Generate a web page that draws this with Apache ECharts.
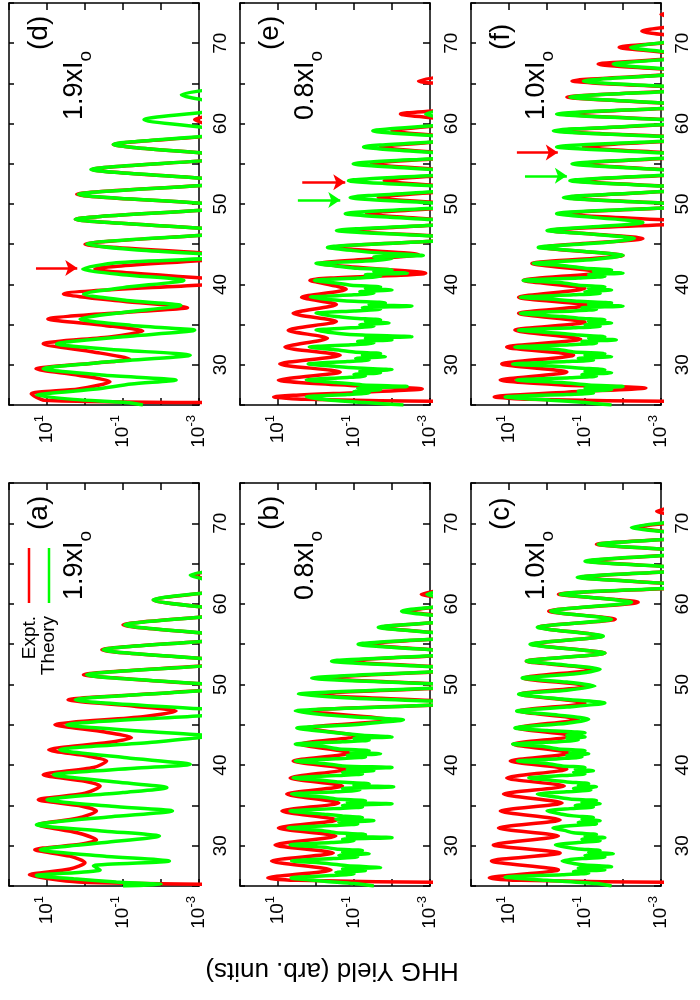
<!DOCTYPE html>
<html><head><meta charset="utf-8">
<script src="https://cdn.jsdelivr.net/npm/echarts/dist/echarts.min.js"></script>
<style>html,body{margin:0;padding:0;background:#fff}#c{width:700px;height:1000px}</style>
</head><body><div id="c"></div>
<script>
// ---------- DATA: [photon energy (eV), HHG yield (arb. units)] ----------
const energyTickLabels = [30, 40, 50, 60, 70];
const yieldTickExponents = [1, -1, -3];
const panelNames = ['(a)', '(b)', '(c)', '(d)', '(e)', '(f)'];
const intensityLabels = ['1.9', '0.8', '1.0', '1.9', '0.8', '1.0'];
const legendNames = ['Expt.', 'Theory'];

const expA = [[25.2,1e-4],[25.5,1.5],[26.4,29],[27.1,2.5],[27.9,1.0],[28.7,2.5],[29.5,21],[30.2,1.2],[30.7,0.5],[31.6,1.6],[32.6,17],[33.4,1.6],[34.3,0.5],[34.9,1.2],[35.7,17],[36.5,1.0],[37.4,0.4],[38.0,1.0],[38.8,12.6],[39.7,0.6],[40.5,0.27],[41.1,0.8],[41.9,9],[42.8,0.25],[43.4,0.06],[44.1,0.3],[45.0,6.2],[46.0,0.03],[46.7,0.004],[47.3,0.05],[48.1,2.8],[49.0,0.005],[49.7,1e-4],[50.4,0.01],[51.2,1.1],[52.75,1e-4],[54.3,0.36],[55.85,1e-4],[57.4,0.1],[58.95,1e-4],[60.5,0.016],[62.05,1e-4],[63.6,0.0014],[64.5,1e-4]];
const theoA = [[25.0,0.1],[25.2,0.01],[25.5,0.15],[25.9,2],[26.3,19],[27.0,0.4],[27.5,0.6],[28.1,0.006],[28.7,0.3],[29.5,15],[30.4,0.3],[31.2,0.011],[31.8,0.3],[32.6,19],[33.6,0.2],[34.3,0.005],[34.9,0.2],[35.7,10],[36.6,0.1],[37.2,0.007],[37.9,0.15],[38.8,6.8],[39.6,0.05],[40.1,0.0017],[40.9,0.08],[41.9,4.6],[42.8,0.02],[43.6,6e-4],[44.2,0.03],[45.0,3.0],[46.55,1e-4],[48.1,1.8],[49.65,1e-4],[51.2,0.9],[52.75,1e-4],[54.3,0.33],[55.85,1e-4],[57.4,0.09],[58.95,1e-4],[60.5,0.016],[62.05,1e-4],[63.6,0.0017],[64.4,1e-4]];

const expB = [[25.4,1e-4],[25.7,3],[26.0,18.6],[27.0,0.4],[28.1,14.8],[29.1,0.35],[30.1,12],[31.2,0.3],[32.2,9.8],[33.2,0.28],[34.3,7.9],[35.3,0.25],[36.4,5.9],[37.4,0.2],[38.4,4.8],[39.5,0.16],[40.5,4],[41.5,0.13],[42.6,2.6],[43.6,0.08],[44.6,1.8],[45.6,0.01],[46.7,1.8],[47.7,1e-4],[48.8,1.3],[49.8,1e-4],[50.8,0.58],[51.9,1e-4],[52.9,0.17],[53.9,1e-4],[55.0,0.047],[56.0,1e-4],[57.1,0.019],[58.1,1e-4],[59.1,0.0037],[60.2,1e-4],[61.2,0.0017],[62.2,1e-4]];
const theoB = [[25.0,0.03],[25.3,0.1],[25.6,0.6],[26.0,4.5],[26.3,0.4],[26.5,0.1],[26.7,0.3],[26.9,0.05],[27.1,0.2],[27.3,0.02],[27.5,0.15],[27.8,0.5],[28.1,4.4],[28.4,0.35],[28.6,0.08],[28.8,0.25],[29.0,0.04],[29.2,0.2],[29.4,0.06],[29.6,0.3],[29.8,0.6],[30.1,4.8],[30.4,0.4],[30.6,0.1],[30.8,0.2],[31.0,0.01],[31.2,0.15],[31.4,0.05],[31.6,0.3],[31.9,0.7],[32.2,5.4],[32.5,0.4],[32.7,0.08],[32.9,0.25],[33.1,0.03],[33.3,0.3],[33.5,0.06],[33.7,0.2],[33.9,0.6],[34.3,4.8],[34.6,0.35],[34.8,0.06],[35.0,0.2],[35.2,0.01],[35.4,0.15],[35.6,0.05],[35.8,0.3],[36.0,0.6],[36.4,4.4],[36.7,0.3],[36.9,0.07],[37.1,0.2],[37.3,0.009],[37.5,0.1],[37.7,0.04],[37.9,0.25],[38.1,0.6],[38.4,4],[38.7,0.3],[38.9,0.06],[39.1,0.2],[39.3,0.03],[39.5,0.15],[39.7,0.01],[39.9,0.2],[40.2,0.6],[40.5,3.5],[40.8,0.3],[41.0,0.05],[41.2,0.15],[41.4,0.02],[41.6,0.12],[41.8,0.04],[42.0,0.25],[42.3,0.6],[42.6,3.5],[42.9,0.2],[43.1,0.04],[43.3,0.1],[43.5,0.01],[43.7,0.06],[44.0,0.3],[44.6,3.2],[45.0,0.1],[45.3,0.02],[45.6,0.005],[45.9,0.05],[46.2,0.5],[46.7,3.5],[47.2,0.02],[47.7,1e-4],[48.3,0.1],[48.8,2.9],[49.8,1e-4],[50.8,1.3],[51.9,1e-4],[52.9,0.39],[53.9,1e-4],[55.0,0.078],[56.0,1e-4],[57.1,0.023],[58.1,1e-4],[59.1,0.0056],[60.2,1e-4],[61.2,0.0012],[62.2,1e-4]];

const expC = [[25.4,1e-4],[25.7,5],[26.0,33],[27.0,0.5],[28.1,29],[29.1,0.45],[30.1,26],[31.2,0.5],[32.2,19],[33.2,0.45],[34.3,17],[35.3,0.4],[36.4,14],[37.4,0.35],[38.4,11.5],[39.5,0.3],[40.5,9.3],[41.5,0.25],[42.6,7.8],[43.6,0.2],[44.6,6.3],[45.7,0.15],[46.7,5.6],[47.7,0.1],[48.8,5.1],[49.8,0.08],[50.8,4.2],[51.9,0.055],[52.9,3.5],[53.9,0.03],[55.0,2.5],[56.0,0.035],[57.1,1.7],[58.1,0.016],[59.1,0.9],[60.2,0.004],[61.2,0.5],[62.2,1e-4],[63.3,0.135],[64.3,1e-4],[65.3,0.08],[66.4,1e-4],[67.4,0.05],[68.4,1e-4],[69.5,0.0044],[70.5,1e-4],[71.5,0.0013],[72.6,1e-4]];
const theoC = [[25.0,0.02],[25.3,0.05],[25.7,1.0],[26.1,12.6],[26.4,0.4],[26.6,0.08],[26.8,0.2],[27.0,0.03],[27.2,0.15],[27.4,0.02],[27.6,0.1],[27.8,0.2],[28.1,0.4],[28.4,0.12],[28.6,0.03],[28.8,0.1],[29.0,0.018],[29.2,0.08],[29.4,0.04],[29.6,0.15],[29.8,0.3],[30.1,0.6],[30.4,0.15],[30.6,0.04],[30.8,0.12],[31.0,0.03],[31.2,0.1],[31.4,0.05],[31.6,0.2],[31.9,0.35],[32.2,0.7],[32.5,0.2],[32.7,0.05],[32.9,0.15],[33.1,0.04],[33.3,0.12],[33.5,0.06],[33.7,0.2],[33.9,0.4],[34.3,1.0],[34.6,0.25],[34.8,0.06],[35.0,0.18],[35.2,0.04],[35.4,0.12],[35.6,0.05],[35.8,0.25],[36.0,0.5],[36.4,1.8],[36.7,0.3],[36.9,0.07],[37.1,0.2],[37.3,0.05],[37.5,0.15],[37.7,0.08],[37.9,0.3],[38.1,0.7],[38.4,3],[38.7,0.4],[38.9,0.1],[39.1,0.2],[39.3,0.06],[39.5,0.18],[39.7,0.1],[39.9,0.4],[40.2,1.0],[40.5,6],[40.8,0.5],[41.0,0.12],[41.2,0.3],[41.4,0.08],[41.6,0.25],[41.8,0.1],[42.0,0.5],[42.3,1.2],[42.6,8],[42.9,0.5],[43.1,0.15],[43.3,0.3],[43.5,0.1],[43.7,0.3],[44.0,0.1],[44.3,1.0],[44.6,7],[45.2,0.3],[45.7,0.08],[46.2,0.5],[46.7,6.3],[47.2,0.3],[47.7,0.03],[48.2,0.4],[48.8,5.6],[49.3,0.3],[49.8,0.055],[50.3,0.3],[50.8,4.5],[51.3,0.2],[51.9,0.04],[52.4,0.3],[52.9,3.5],[53.9,0.03],[55.0,2.8],[56.0,0.033],[57.1,1.8],[58.1,0.02],[59.1,0.8],[60.2,0.006],[61.2,0.45],[62.2,1e-4],[63.3,0.16],[64.3,1e-4],[65.3,0.1],[66.4,1e-4],[67.4,0.045],[68.4,1e-4],[69.5,0.006],[70.5,1e-4]];

const expD = [[25.3,1e-4],[25.6,12],[26.4,26],[27.0,1.5],[27.9,0.22],[28.7,1.5],[29.5,19.5],[30.2,0.6],[30.7,0.066],[31.6,0.6],[32.6,12.6],[33.5,0.2],[34.2,0.03],[34.9,0.3],[35.7,9.5],[36.6,0.05],[37.1,0.002],[37.9,0.1],[38.8,3.7],[40.35,1e-4],[41.9,0.55],[43.45,1e-4],[45.0,1.0],[46.55,1e-4],[48.1,1.8],[49.65,1e-4],[51.2,1.65],[52.75,1e-4],[54.3,0.66],[55.85,1e-4],[57.4,0.18],[58.95,1e-4],[60.5,0.0013],[61.5,1e-4]];
const theoD = [[25.0,0.03],[25.3,0.08],[25.7,2],[26.2,18.6],[27.0,0.5],[27.6,0.06],[28.1,0.004],[28.7,0.3],[29.5,12.6],[30.4,0.2],[31.2,0.0017],[31.9,0.2],[32.6,5.6],[33.5,0.1],[34.3,0.0013],[34.9,0.06],[35.7,1.35],[36.5,0.1],[37.4,0.003],[38.0,0.08],[38.8,1.1],[39.6,0.1],[40.5,0.0025],[41.2,0.1],[41.9,1.15],[42.7,0.15],[43.45,1e-4],[44.3,0.05],[45.0,0.9],[46.55,1e-4],[48.1,1.8],[49.65,1e-4],[51.2,1.5],[52.75,1e-4],[54.3,0.7],[55.85,1e-4],[57.4,0.18],[58.95,1e-4],[60.5,0.028],[62.05,1e-4],[63.6,0.0029],[64.6,1e-4]];

const expE = [[25.4,1e-4],[25.7,2],[26.0,13],[26.6,0.05],[27.0,0.0016],[27.4,0.08],[28.1,9.8],[29.1,0.23],[30.1,9],[31.2,0.23],[32.2,6.6],[33.3,0.5],[34.3,5.4],[35.4,0.29],[36.4,4],[37.5,0.29],[38.4,2.4],[39.4,0.16],[40.5,1.45],[41.4,0.0013],[42.6,0.8],[43.7,0.002],[44.6,0.4],[45.7,1e-4],[46.7,0.13],[47.7,1e-4],[48.8,0.047],[49.8,1e-4],[50.8,0.023],[51.9,1e-4],[52.9,0.016],[53.9,1e-4],[55.0,0.035],[56.0,1e-4],[57.1,0.02],[58.1,1e-4],[59.1,0.01],[60.2,1e-4],[61.2,0.006],[62.2,1e-4],[64.3,1e-4],[65.3,0.002],[66.3,1e-4]];
const theoE = [[25.0,0.005],[25.3,0.05],[25.6,0.4],[26.0,1.8],[26.3,0.15],[26.5,0.04],[26.7,0.1],[26.9,0.02],[27.1,0.08],[27.3,0.004],[27.5,0.06],[27.8,0.3],[28.1,1.8],[28.4,0.2],[28.6,0.05],[28.8,0.1],[29.0,0.02],[29.2,0.07],[29.4,0.01],[29.6,0.08],[29.8,0.3],[30.1,1.6],[30.4,0.15],[30.6,0.04],[30.8,0.09],[31.0,0.015],[31.2,0.06],[31.4,0.02],[31.6,0.1],[31.9,0.35],[32.2,1.5],[32.5,0.12],[32.7,0.03],[32.9,0.08],[33.1,0.01],[33.3,0.05],[33.5,0.003],[33.7,0.06],[33.9,0.25],[34.3,1.0],[34.6,0.12],[34.8,0.03],[35.0,0.07],[35.2,0.012],[35.4,0.05],[35.6,0.02],[35.8,0.1],[36.0,0.3],[36.4,1.0],[36.7,0.1],[36.9,0.02],[37.1,0.06],[37.3,0.003],[37.5,0.04],[37.7,0.015],[37.9,0.1],[38.1,0.4],[38.4,1.4],[38.7,0.1],[38.9,0.03],[39.1,0.07],[39.3,0.01],[39.5,0.05],[39.7,0.02],[39.9,0.12],[40.2,0.35],[40.5,1.1],[40.8,0.08],[41.0,0.02],[41.2,0.05],[41.4,0.004],[41.6,0.03],[41.8,0.01],[42.0,0.08],[42.3,0.3],[42.6,1.0],[42.9,0.05],[43.2,0.01],[43.4,0.03],[43.6,0.0015],[43.9,0.02],[44.2,0.1],[44.6,0.5],[45.7,1e-4],[46.7,0.29],[47.7,1e-4],[48.8,0.17],[49.8,1e-4],[50.8,0.126],[51.9,1e-4],[52.9,0.14],[53.9,1e-4],[55.0,0.105],[56.0,1e-4],[57.1,0.056],[58.1,1e-4],[59.1,0.032],[60.2,1e-4],[61.2,0.0013],[62.2,1e-4]];

const expF = [[25.4,1e-4],[25.7,3],[26.0,24.5],[26.6,0.3],[27.1,0.0025],[27.5,0.4],[28.1,17],[29.1,0.3],[30.1,15.5],[31.2,0.2],[32.2,11.5],[33.2,0.13],[34.3,7],[35.3,0.1],[36.4,5.6],[37.4,0.08],[38.4,5.6],[39.5,0.1],[40.5,4.2],[41.5,0.04],[42.6,2.5],[43.6,0.01],[44.6,1.25],[45.7,0.003],[46.7,0.83],[47.7,1e-4],[48.8,0.4],[49.8,1e-4],[50.8,0.28],[51.9,1e-4],[52.9,0.17],[53.9,1e-4],[55.0,0.135],[56.0,1e-4],[57.1,0.11],[58.1,1e-4],[59.1,0.46],[60.2,1e-4],[61.2,0.37],[62.2,1e-4],[63.3,0.3],[64.3,1e-4],[65.3,0.22],[66.4,1e-4],[67.4,0.045],[68.4,1e-4],[69.5,0.0126],[70.5,1e-4],[71.5,0.0032],[72.6,1e-4],[73.6,0.001],[74.3,1e-4]];
const theoF = [[25.0,0.02],[25.3,0.1],[25.6,0.8],[26.0,12.6],[26.3,0.3],[26.5,0.06],[26.7,0.15],[26.9,0.02],[27.1,0.1],[27.3,0.01],[27.5,0.08],[27.8,0.4],[28.1,6.3],[28.4,0.25],[28.6,0.05],[28.8,0.12],[29.0,0.02],[29.2,0.1],[29.4,0.03],[29.6,0.15],[29.8,0.5],[30.1,8],[30.4,0.3],[30.6,0.06],[30.8,0.15],[31.0,0.02],[31.2,0.1],[31.4,0.03],[31.6,0.2],[31.9,0.5],[32.2,7],[32.5,0.25],[32.7,0.05],[32.9,0.12],[33.1,0.015],[33.3,0.08],[33.5,0.03],[33.7,0.15],[33.9,0.4],[34.3,5.6],[34.6,0.2],[34.8,0.04],[35.0,0.1],[35.2,0.02],[35.4,0.08],[35.6,0.03],[35.8,0.15],[36.0,0.4],[36.4,5],[36.7,0.2],[36.9,0.05],[37.1,0.12],[37.3,0.01],[37.5,0.08],[37.7,0.02],[37.9,0.15],[38.1,0.5],[38.4,5],[38.7,0.2],[38.9,0.04],[39.1,0.1],[39.3,0.02],[39.5,0.08],[39.7,0.03],[39.9,0.15],[40.2,0.4],[40.5,4.2],[40.8,0.15],[41.0,0.03],[41.2,0.08],[41.4,0.01],[41.6,0.06],[41.8,0.02],[42.0,0.1],[42.3,0.3],[42.6,2.3],[43.1,0.06],[43.6,0.01],[44.1,0.1],[44.6,1.7],[45.2,0.03],[45.7,0.005],[46.2,0.05],[46.7,1.0],[47.7,0.003],[48.8,0.56],[49.8,1e-4],[50.8,0.37],[51.9,1e-4],[52.9,0.25],[53.9,1e-4],[55.0,0.22],[56.0,1e-4],[57.1,0.56],[58.1,1e-4],[59.1,0.68],[60.2,1e-4],[61.2,0.56],[62.2,1e-4],[63.3,0.25],[64.3,1e-4],[65.3,0.11],[66.4,1e-4],[67.4,0.018],[68.4,1e-4],[69.5,0.0063],[70.5,1e-4]];

// arrows: [energy, start yield, end yield]
const arrowExpD = [[42.05, 19.5, 1.6]];
const arrowExpE = [[52.7, 2.3, 0.17]];
const arrowTheoE = [[50.5, 3.0, 0.23]];
const arrowExpF = [[56.4, 6.2, 0.52]];
const arrowTheoF = [[53.5, 3.8, 0.3]];

// ---------- LAYOUT / STYLE ----------
const F = '"Liberation Sans", Arial, Helvetica, sans-serif';
const RED = '#ff0000', GREEN = '#00ff00';
const panels = [
  {exp: expA, theo: theoA, ae: [], at: []},
  {exp: expB, theo: theoB, ae: [], at: []},
  {exp: expC, theo: theoC, ae: [], at: []},
  {exp: expD, theo: theoD, ae: arrowExpD, at: []},
  {exp: expE, theo: theoE, ae: arrowExpE, at: arrowTheoE},
  {exp: expF, theo: theoF, ae: arrowExpF, at: arrowTheoF}
];
const boxes = [
  {left: 9, top: 483, h: 403}, {left: 240, top: 483, h: 403}, {left: 471, top: 483, h: 403},
  {left: 9, top: 3, h: 402}, {left: 240, top: 3, h: 402}, {left: 471, top: 3, h: 402}
];
const BW = 190;

const grids = [], xAxes = [], yAxes = [], series = [], graphics = [];
const axisLineStyle = {show: true, onZero: false, lineStyle: {color: '#000', width: 1.5}};

function yieldLabel(v) {
  const e = Math.round(Math.log10(v));
  return yieldTickExponents.indexOf(e) >= 0 ? '10{s|' + e + '}' : '';
}
function energyLabel(v) {
  return energyTickLabels.indexOf(v) >= 0 ? String(v) : '';
}
function lineSeries(data, color, idx, arrows) {
  const s = {
    type: 'line', xAxisIndex: idx, yAxisIndex: idx,
    data: data.map(d => [d[1], d[0]]),
    showSymbol: false, symbol: 'none', smooth: 0.25, clip: true,
    lineStyle: {color: color, width: 3.5}, itemStyle: {color: color},
    silent: true, animation: false
  };
  if (arrows.length) {
    s.markLine = {
      silent: true, animation: false, symbol: ['none', 'arrow'], symbolSize: 12,
      label: {show: false}, emphasis: {disabled: true},
      lineStyle: {color: color, width: 2.5, type: 'solid'},
      data: arrows.map(a => [{coord: [a[1], a[0]]}, {coord: [a[2], a[0]]}])
    };
  }
  return s;
}

panels.forEach((p, i) => {
  const b = boxes[i];
  grids.push({left: b.left, top: b.top, width: BW, height: b.h, containLabel: false});
  const logBase = {gridIndex: i, type: 'log', logBase: 10, min: 0.001, max: 100, inverse: true,
    splitLine: {show: false}, axisLine: axisLineStyle};
  xAxes.push(Object.assign({}, logBase, {
    position: 'bottom',
    axisTick: {inside: true, length: 7, lineStyle: {color: '#000', width: 1.5}},
    axisLabel: {rotate: 90, margin: 10, fontSize: 19, fontFamily: F, color: '#000', lineHeight: 28,
      formatter: yieldLabel,
      rich: {s: {fontSize: 13, lineHeight: 13, fontFamily: F, color: '#000', verticalAlign: 'top'}}}
  }));
  xAxes.push(Object.assign({}, logBase, {
    position: 'top',
    axisTick: {inside: true, length: 7, lineStyle: {color: '#000', width: 1.5}},
    axisLabel: {show: false}
  }));
  const linBase = {gridIndex: i, type: 'value', min: 25, max: 75, interval: 5,
    splitLine: {show: false}, axisLine: axisLineStyle};
  yAxes.push(Object.assign({}, linBase, {
    position: 'right',
    axisTick: {inside: true, length: 7, lineStyle: {color: '#000', width: 1.5}},
    axisLabel: {rotate: 90, margin: 12, fontSize: 19, fontFamily: F, color: '#000', formatter: energyLabel}
  }));
  yAxes.push(Object.assign({}, linBase, {
    position: 'left',
    axisTick: {inside: true, length: 5, lineStyle: {color: '#000', width: 1.5}},
    axisLabel: {show: false}
  }));
  series.push(lineSeries(p.exp, RED, 2 * i, p.ae));
  series.push(lineSeries(p.theo, GREEN, 2 * i, p.at));

  graphics.push({type: 'text', x: b.left + 30, y: b.top + 47, rotation: Math.PI / 2, z: 100,
    style: {text: panelNames[i], fontSize: 28, fontFamily: F, fill: '#000', align: 'left', verticalAlign: 'middle'}});
  graphics.push({type: 'text', x: b.left + 66, y: b.top + 117, rotation: Math.PI / 2, z: 100,
    style: {text: intensityLabels[i] + 'xI{o|o}', fontSize: 27, fontFamily: F, fill: '#000',
      align: 'left', verticalAlign: 'middle', lineHeight: 40,
      rich: {o: {fontSize: 19, fontFamily: F, fill: '#000', lineHeight: 19, verticalAlign: 'bottom'}}}});
});

// legend inside panel (a)
const la = boxes[0];
graphics.push({type: 'line', z: 100, shape: {x1: la.left + 20, y1: la.top + 65, x2: la.left + 20, y2: la.top + 120},
  style: {stroke: RED, lineWidth: 2.5}});
graphics.push({type: 'line', z: 100, shape: {x1: la.left + 40, y1: la.top + 65, x2: la.left + 40, y2: la.top + 120},
  style: {stroke: GREEN, lineWidth: 2.5}});
graphics.push({type: 'text', x: la.left + 21, y: la.top + 133, rotation: Math.PI / 2, z: 100,
  style: {text: legendNames[0], fontSize: 19, fontFamily: F, fill: '#000', align: 'right', verticalAlign: 'middle'}});
graphics.push({type: 'text', x: la.left + 39.5, y: la.top + 133, rotation: Math.PI / 2, z: 100,
  style: {text: legendNames[1], fontSize: 19, fontFamily: F, fill: '#000', align: 'right', verticalAlign: 'middle'}});

// y-axis title (figure is shown rotated)
graphics.push({type: 'text', x: 332, y: 970, rotation: Math.PI, z: 100,
  style: {text: 'HHG Yield (arb. units)', fontSize: 26, fontFamily: F, fill: '#000', align: 'center', verticalAlign: 'middle'}});

const chart = echarts.init(document.getElementById('c'), null, {renderer: 'canvas'});
chart.setOption({
  animation: false,
  backgroundColor: '#fff',
  grid: grids, xAxis: xAxes, yAxis: yAxes, series: series, graphic: graphics
});
</script>
</body></html>
